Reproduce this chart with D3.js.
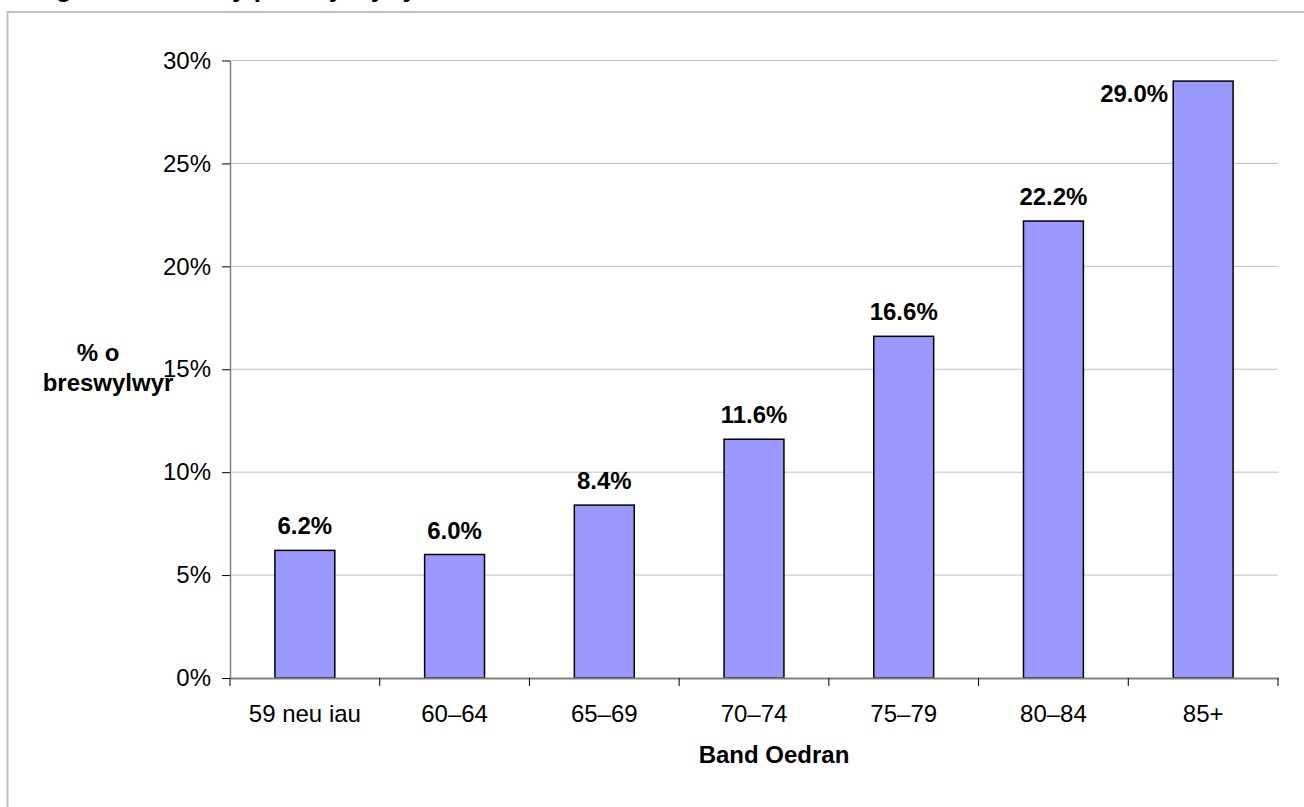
<!DOCTYPE html>
<html>
<head>
<meta charset="utf-8">
<script src="https://cdn.jsdelivr.net/npm/d3@7"></script>
<style>
  body { margin: 0; background: #fff; }
  svg { display: block; font-family: "Liberation Sans", Arial, sans-serif; }
</style>
</head>
<body>
<div id="chart"></div>
<script>
const categories = ["59 neu iau", "60–64", "65–69", "70–74", "75–79", "80–84", "85+"];
const values = [0.062, 0.060, 0.084, 0.116, 0.166, 0.222, 0.290];
const yTicks = [0, 0.05, 0.10, 0.15, 0.20, 0.25, 0.30];

const width = 1304;
const height = 807;
const plot = { left: 230, right: 1278, top: 60.5, bottom: 678 };
const fontSize = "24px";

const svg = d3.select("#chart").append("svg")
    .attr("width", width)
    .attr("height", height);

// title sits above the visible area, only descenders show
svg.append("text")
    .attr("x", 24).attr("y", -3)
    .attr("font-size", "26px").attr("font-weight", "bold")
    .text("Ffigur 4: Canran y preswylwyr yn ôl band oedran");

// outer frame
svg.append("rect")
    .attr("x", 7.5).attr("y", 12)
    .attr("width", width + 10).attr("height", height)
    .attr("fill", "none").attr("stroke", "#c0c0c0").attr("stroke-width", 2);

const x = d3.scaleBand()
    .domain(categories)
    .range([plot.left, plot.right])
    .paddingInner(0.6)
    .paddingOuter(0.3);

const y = d3.scaleLinear()
    .domain([0, 0.30])
    .range([plot.bottom, plot.top]);

// gridlines
svg.append("g")
    .selectAll("line")
    .data(yTicks.filter(d => d > 0))
    .join("line")
    .attr("x1", plot.left).attr("x2", plot.right)
    .attr("y1", d => y(d)).attr("y2", d => y(d))
    .attr("stroke", "#c0c0c0").attr("stroke-width", 1);

// y axis
const yAxis = svg.append("g")
    .attr("transform", `translate(${plot.left},0)`)
    .call(d3.axisLeft(y).tickValues(yTicks).tickFormat(d3.format(".0%"))
        .tickSize(8).tickSizeOuter(0).tickPadding(11));
yAxis.select(".domain").attr("stroke", "#808080").attr("stroke-width", 1.5);
yAxis.selectAll(".tick line").attr("stroke", "#000").attr("stroke-width", 1);
yAxis.selectAll(".tick text")
    .attr("font-size", fontSize).attr("font-family", "Liberation Sans, Arial, sans-serif")
    .attr("fill", "#000");

// bars
svg.append("g")
    .selectAll("rect")
    .data(values)
    .join("rect")
    .attr("x", (d, i) => x(categories[i]))
    .attr("y", d => y(d))
    .attr("width", x.bandwidth())
    .attr("height", d => y(0) - y(d))
    .attr("fill", "#9999ff")
    .attr("stroke", "#000")
    .attr("stroke-width", 1.5);

// x axis
const xAxis = svg.append("g")
    .attr("transform", `translate(0,${plot.bottom})`)
    .call(d3.axisBottom(x).tickSize(0).tickPadding(27));
xAxis.select(".domain").attr("stroke", "#808080").attr("stroke-width", 2);
xAxis.selectAll(".tick text")
    .attr("font-size", fontSize).attr("font-family", "Liberation Sans, Arial, sans-serif")
    .attr("fill", "#000");

// category separator ticks
xAxis.append("g")
    .selectAll("line")
    .data(d3.range(categories.length + 1))
    .join("line")
    .attr("x1", i => x.range()[0] + i * x.step())
    .attr("x2", i => x.range()[0] + i * x.step())
    .attr("y1", 0).attr("y2", 8)
    .attr("stroke", "#000").attr("stroke-width", 1);

// value labels
svg.append("g")
    .selectAll("text")
    .data(values)
    .join("text")
    .each(function(d, i) {
        const t = d3.select(this);
        const top = y(d);
        if (top - 16 - 17 < plot.top) {
            // no room above: put it beside the bar
            t.attr("x", x(categories[i]) - 5).attr("y", top + 21).attr("text-anchor", "end");
        } else {
            t.attr("x", x(categories[i]) + x.bandwidth() / 2).attr("y", top - 16).attr("text-anchor", "middle");
        }
    })
    .attr("font-size", fontSize).attr("font-weight", "bold")
    .text(d => d3.format(".1%")(d));

// axis titles
svg.append("text")
    .attr("x", 774).attr("y", 763)
    .attr("text-anchor", "middle")
    .attr("font-size", fontSize).attr("font-weight", "bold")
    .text("Band Oedran");

const yTitle = svg.append("text")
    .attr("font-size", fontSize).attr("font-weight", "bold")
    .attr("text-anchor", "middle");
yTitle.append("tspan").attr("x", 98).attr("y", 361).text("% o");
yTitle.append("tspan").attr("x", 108).attr("y", 391).text("breswylwyr");
</script>
</body>
</html>
